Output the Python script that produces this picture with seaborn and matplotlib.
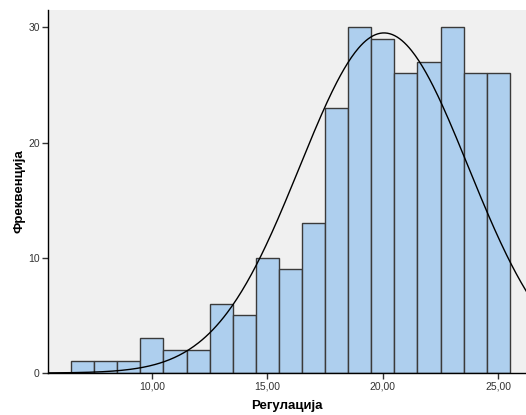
import numpy as np
import pandas as pd
import matplotlib
matplotlib.use("Agg")
import matplotlib.pyplot as plt
import seaborn as sns

# bin centres and counts
bin_centres = [7, 8, 9, 10, 11, 12, 13, 14, 15, 16, 17, 18, 19, 20, 21, 22, 23, 24, 25]
counts = [1, 1, 1, 3, 2, 2, 6, 5, 10, 9, 13, 23, 30, 29, 26, 27, 30, 26, 26]
x_ticks = [10, 15, 20, 25]
x_tick_labels = ["10,00", "15,00", "20,00", "25,00"]
y_ticks = [0, 10, 20, 30]

# fitted normal curve parameters
curve_mean = 20.05
curve_sd = 3.65

df = pd.DataFrame({"value": bin_centres, "count": counts})
n_total = df["count"].sum()

plt.rcParams["font.family"] = ["Liberation Sans", "DejaVu Sans"]

fig = plt.figure(figsize=(5.26, 4.15), dpi=100)
ax = fig.add_axes([48 / 526, 42 / 415, 478 / 526, 363 / 415])
ax.set_facecolor("#F0F0F0")

# histogram
sns.histplot(data=df, x="value", weights="count", binwidth=1, binrange=(6.5, 25.5),
             color="#AECFEE", edgecolor="#3A3A3A", linewidth=1.0, alpha=1, ax=ax)

# normal curve scaled to the counts
xs = np.linspace(5.5, 26.3, 400)
ys = n_total * 1.0 / (curve_sd * np.sqrt(2 * np.pi)) * np.exp(-(xs - curve_mean) ** 2 / (2 * curve_sd ** 2))
ax.plot(xs, ys, color="black", linewidth=1.0)

ax.set_xlim(5.5, 26.2)
ax.set_ylim(0, 31.5)
ax.set_xticks(x_ticks)
ax.set_xticklabels(x_tick_labels)
ax.set_yticks(y_ticks)
ax.tick_params(axis="both", length=4, width=1, color="#333333", labelsize=7.5, labelcolor="#333333", pad=2)

for side in ["top", "right"]:
    ax.spines[side].set_visible(False)
for side in ["left", "bottom"]:
    ax.spines[side].set_color("black")
    ax.spines[side].set_linewidth(1.0)

ax.set_xlabel("Регулација", fontsize=9.5, fontweight="bold", labelpad=6)
ax.set_ylabel("Фреквенција", fontsize=9.5, fontweight="bold", labelpad=2)

fig.savefig("out.png", dpi=100)
